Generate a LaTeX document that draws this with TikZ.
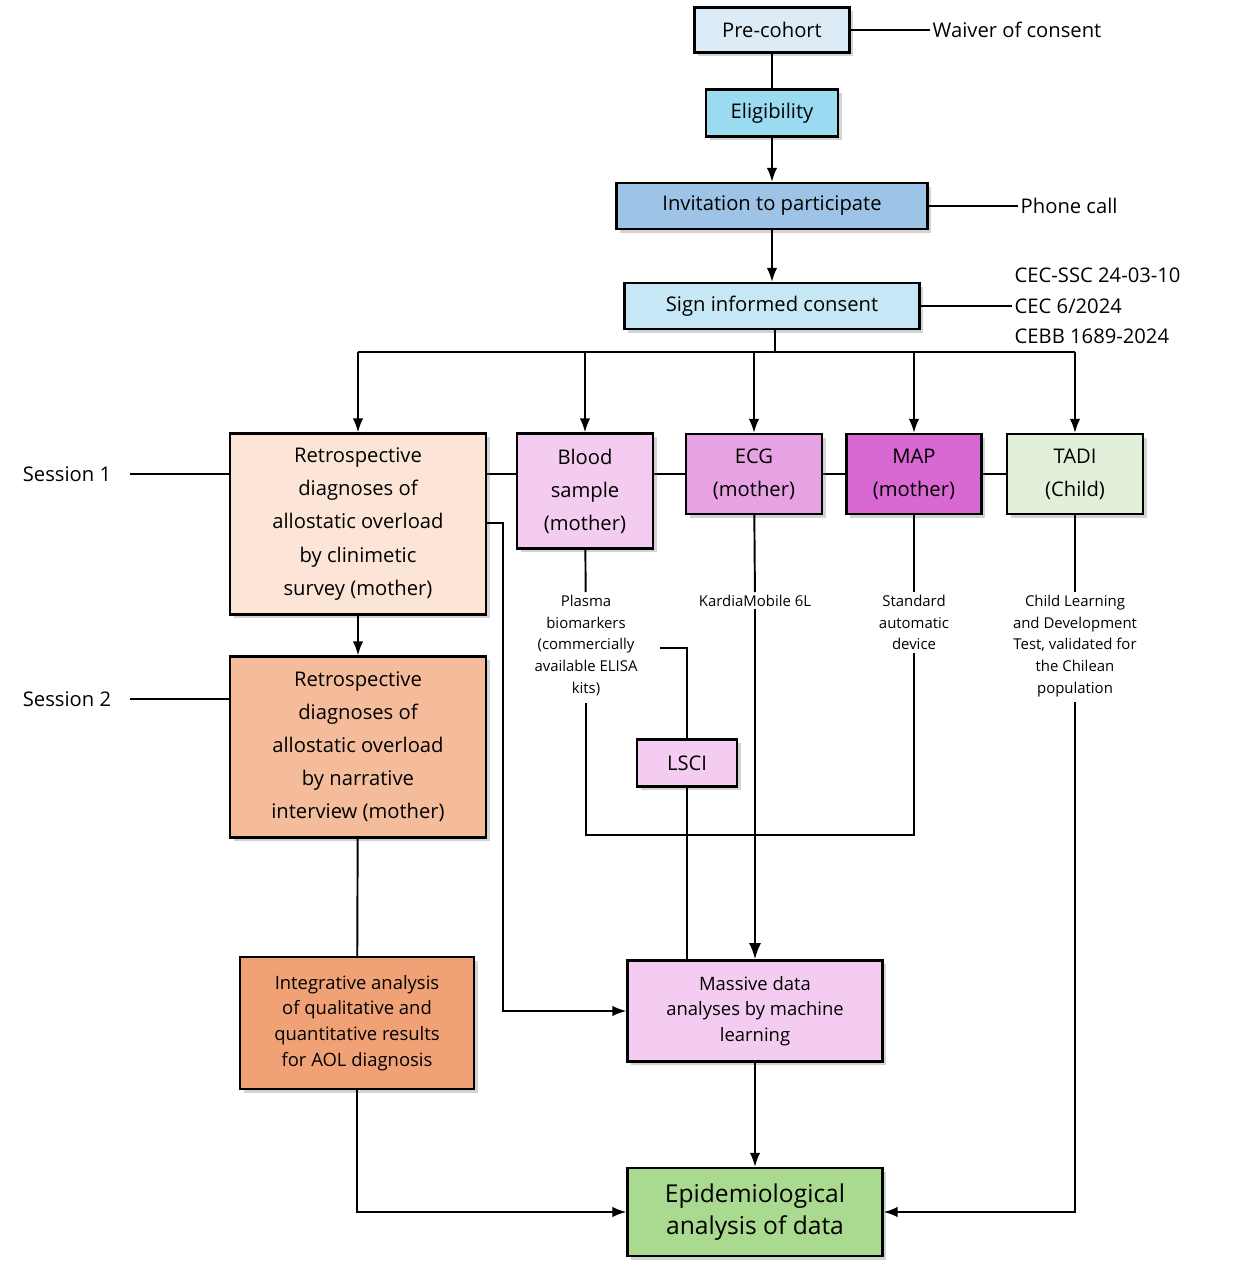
\documentclass[tikz,border=0pt]{standalone}
\usepackage{fontspec}
\setmainfont{Open Sans}
\usetikzlibrary{arrows.meta, positioning, shadows}
\definecolor{precol}{HTML}{DDEBF7}
\definecolor{eligcol}{HTML}{9ADBF2}
\definecolor{invcol}{HTML}{9DC3E6}
\definecolor{signcol}{HTML}{C6E7F5}
\definecolor{survcol}{HTML}{FCE4D6}
\definecolor{narrcol}{HTML}{F5BC9C}
\definecolor{integcol}{HTML}{F1A176}
\definecolor{bloodcol}{HTML}{F4CCF2}
\definecolor{ecgcol}{HTML}{E6A2E2}
\definecolor{mapcol}{HTML}{D968D2}
\definecolor{tadicol}{HTML}{E2F0D9}
\definecolor{epicol}{HTML}{A9DA8F}
\begin{document}
\begin{tikzpicture}
    [x=0.02cm, y=-0.02cm, >=Latex, line width=1.1pt,
    box/.style={draw, line width=1.3pt, align=center, inner sep=2pt,
    drop shadow={shadow xshift=2pt, shadow yshift=-2pt, opacity=0.35},
    font=\fontsize{11.5}{18.8}\selectfont},
    note/.style={align=center, inner sep=1pt, font=\fontsize{8.5}{12.5}\selectfont},
    side/.style={align=left, inner sep=1pt, font=\fontsize{11.5}{17}\selectfont}]
    \useasboundingbox (0,0) rectangle (1243,1280);

    % top chain
    \node [box, fill=precol, minimum width=155*0.02cm, minimum height=45*0.02cm] (pre) at (772,30) {Pre-cohort};
    \node [box, fill=eligcol, minimum width=132*0.02cm, minimum height=47*0.02cm] (elig) at (772,113) {Eligibility};
    \node [box, fill=invcol, minimum width=311*0.02cm, minimum height=46*0.02cm] (inv) at (772,206) {Invitation to participate};
    \node [box, fill=signcol, minimum width=295*0.02cm, minimum height=46*0.02cm] (sign) at (772,306) {Sign informed consent};

    \node [side, anchor=west] (waiver) at (930,30) {Waiver of consent};
    \node [side, anchor=west] (phone) at (1018,206) {Phone call};
    \node [side, anchor=west, font=\fontsize{11.5}{17.3}\selectfont] (cec) at (1012,306) {CEC-SSC 24-03-10\\CEC 6/2024\\CEBB 1689-2024};

    % sessions
    \node [side] (ses1) at (67,474) {Session 1};
    \node [side] (ses2) at (67,699) {Session 2};
    \coordinate (bus) at (772,352);

    % horizontal session-1 line behind the boxes
    \draw (ses1.east) ++(16,0) -- (1075,474);
    \draw (ses2.east) ++(16,0) -- (230,699);

    % second row
    \node [box, fill=survcol, minimum width=256*0.02cm, minimum height=181*0.02cm] (survey) at (358,524) {Retrospective\\diagnoses of\\allostatic overload\\by clinimetic\\survey (mother)};
    \node [box, fill=bloodcol, minimum width=136*0.02cm, minimum height=115*0.02cm] (blood) at (585,491) {Blood\\sample\\(mother)};
    \node [box, fill=ecgcol, minimum width=136*0.02cm, minimum height=80*0.02cm] (ecg) at (754,474) {ECG\\(mother)};
    \node [box, fill=mapcol, minimum width=135*0.02cm, minimum height=80*0.02cm] (map) at (914,474) {MAP\\(mother)};
    \node [box, fill=tadicol, minimum width=136*0.02cm, minimum height=80*0.02cm] (tadi) at (1075,474) {TADI\\(Child)};

    % notes
    \node [note, anchor=north] (plasma) at (586,592) {Plasma\\biomarkers\\(commercially\\available ELISA\\kits)};
    \node [note, anchor=north] (kardia) at (755,592) {KardiaMobile 6L};
    \node [note, anchor=north] (standard) at (914,592) {Standard\\automatic\\device};
    \node [note, anchor=north] (child) at (1075,592) {Child Learning\\and Development\\Test, validated for\\the Chilean\\population};

    \node [box, fill=narrcol, minimum width=256*0.02cm, minimum height=181*0.02cm] (narr) at (358,747) {Retrospective\\diagnoses of\\allostatic overload\\by narrative\\interview (mother)};
    \node [box, fill=bloodcol, minimum width=100*0.02cm, minimum height=47*0.02cm] (lsci) at (687,763) {LSCI};
    \node [box, fill=integcol, minimum width=234*0.02cm, minimum height=132*0.02cm, font=\fontsize{10.5}{14.6}\selectfont] (integ) at (357,1023) {Integrative analysis\\of qualitative and\\quantitative results\\for AOL diagnosis};
    \node [box, fill=bloodcol, minimum width=255*0.02cm, minimum height=101*0.02cm, font=\fontsize{10.5}{14.6}\selectfont] (massive) at (755,1011) {Massive data\\analyses by machine\\learning};
    \node [box, fill=epicol, minimum width=255*0.02cm, minimum height=88*0.02cm, font=\fontsize{14}{18.5}\selectfont] (epi) at (755,1212) {Epidemiological\\analysis of data};

    % Draw edges
    \draw (pre) -- (elig);
    \draw [->] (elig) -- (inv);
    \draw [->] (inv) -- (sign);
    \draw (pre.east) -- (waiver.west);
    \draw (inv.east) -- (phone.west);
    \draw (sign.east) -- (cec.west);
    \draw [line width=1.6pt] (sign.south) ++(3,0) -- ++(0,23);
    \draw (survey.north |- bus) -- (tadi.north |- bus);
    \foreach \n in {survey, blood, ecg, map, tadi}
        \draw [->] (\n.north |- bus) -- (\n.north);

    \draw [->] (survey) -- (narr);
    \draw (narr) -- (integ);
    \draw [->] (survey.east |- 0,523) -- (503,523) |- (massive.west);
    \draw (blood) -- (plasma);
    \draw (ecg) -- (kardia);
    \draw (map) -- (standard);
    \draw (tadi) -- (child);
    \draw (plasma.south) ++(0,4) |- (914,835) -- (standard.south);
    \draw (660,648) -| (lsci.north);
    \draw (lsci) -- (lsci.south |- massive.north);
    \draw [->, line width=1.4pt] (kardia.south) -- (massive.north);
    \draw [->] (integ.south) |- (epi.west);
    \draw [->] (child.south) ++(0,2) |- (epi.east);
    \draw [->] (massive) -- (epi);
\end{tikzpicture}
\end{document}
